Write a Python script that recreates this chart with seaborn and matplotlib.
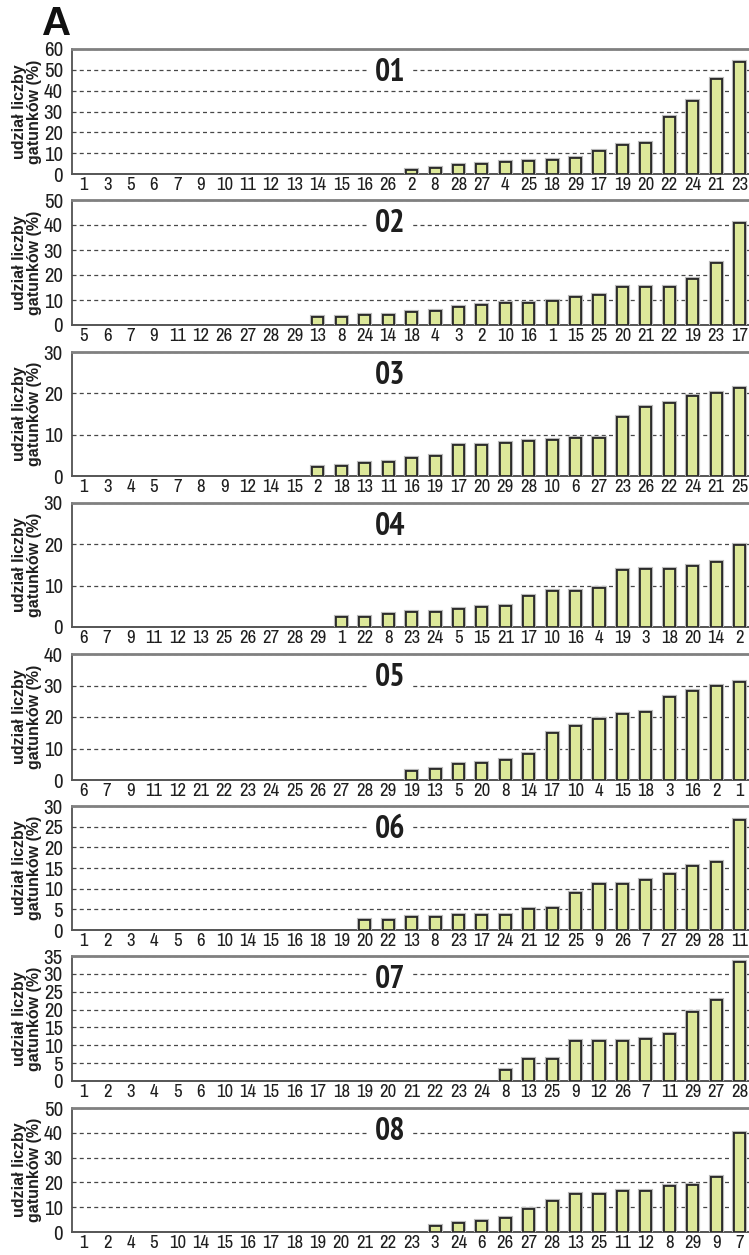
import os
import numpy as np
import pandas as pd
import matplotlib
matplotlib.use("Agg")
import matplotlib.pyplot as plt
import seaborn as sns
from matplotlib import font_manager, patheffects
from matplotlib.font_manager import FontProperties
from matplotlib.patches import Rectangle
from matplotlib.ticker import MultipleLocator, FixedLocator

# ---- data: site categories (x order) and share of species (%) per panel ----
panel_names = ["01", "02", "03", "04", "05", "06", "07", "08"]

cats_01 = [1, 3, 5, 6, 7, 9, 10, 11, 12, 13, 14, 15, 16, 26, 2, 8, 28, 27, 4, 25, 18, 29, 17, 19, 20, 22, 24, 21, 23]
vals_01 = [0, 0, 0, 0, 0, 0, 0, 0, 0, 0, 0, 0, 0, 0,
           1.8, 2.9, 4.2, 4.7, 5.8, 6.4, 6.9, 7.6, 10.9, 14.0, 14.9, 27.6, 35.0, 45.4, 53.9]

cats_02 = [5, 6, 7, 9, 11, 12, 26, 27, 28, 29, 13, 8, 24, 14, 18, 4, 3, 2, 10, 16, 1, 15, 25, 20, 21, 22, 19, 23, 17]
vals_02 = [0, 0, 0, 0, 0, 0, 0, 0, 0, 0,
           3.3, 3.3, 3.9, 3.9, 5.1, 5.6, 7.2, 8.2, 8.9, 8.9, 9.8, 11.4, 12.0, 15.2, 15.2, 15.2, 18.5, 25.0, 40.7]

cats_03 = [1, 3, 4, 5, 7, 8, 9, 12, 14, 15, 2, 18, 13, 11, 16, 19, 17, 20, 29, 28, 10, 6, 27, 23, 26, 22, 24, 21, 25]
vals_03 = [0, 0, 0, 0, 0, 0, 0, 0, 0, 0,
           2.1, 2.3, 3.1, 3.5, 4.4, 4.8, 7.5, 7.5, 7.9, 8.5, 8.8, 9.1, 9.1, 14.3, 16.6, 17.7, 19.4, 20.0, 21.4]

cats_04 = [6, 7, 9, 11, 12, 13, 25, 26, 27, 28, 29, 1, 22, 8, 23, 24, 5, 15, 21, 17, 10, 16, 4, 19, 3, 18, 20, 14, 2]
vals_04 = [0, 0, 0, 0, 0, 0, 0, 0, 0, 0, 0,
           2.3, 2.3, 3.1, 3.6, 3.6, 4.4, 4.8, 5.1, 7.4, 8.7, 8.7, 9.4, 13.8, 14.1, 14.1, 14.8, 15.8, 19.9]

cats_05 = [6, 7, 9, 11, 12, 21, 22, 23, 24, 25, 26, 27, 28, 29, 19, 13, 5, 20, 8, 14, 17, 10, 4, 15, 18, 3, 16, 2, 1]
vals_05 = [0, 0, 0, 0, 0, 0, 0, 0, 0, 0, 0, 0, 0, 0,
           2.7, 3.5, 5.0, 5.4, 6.4, 8.2, 15.0, 17.3, 19.3, 21.1, 21.5, 26.2, 28.4, 29.8, 31.1]

cats_06 = [1, 2, 3, 4, 5, 6, 10, 14, 15, 16, 18, 19, 20, 22, 13, 8, 23, 17, 24, 21, 12, 25, 9, 26, 7, 27, 29, 28, 11]
vals_06 = [0, 0, 0, 0, 0, 0, 0, 0, 0, 0, 0, 0,
           2.3, 2.3, 3.1, 3.1, 3.7, 3.7, 3.7, 5.1, 5.4, 9.0, 11.1, 11.1, 12.2, 13.5, 15.5, 16.5, 26.6]

cats_07 = [1, 2, 3, 4, 5, 6, 10, 14, 15, 16, 17, 18, 19, 20, 21, 22, 23, 24, 8, 13, 25, 9, 12, 26, 7, 11, 29, 27, 28]
vals_07 = [0, 0, 0, 0, 0, 0, 0, 0, 0, 0, 0, 0, 0, 0, 0, 0, 0, 0,
           3.0, 6.1, 6.1, 11.2, 11.2, 11.2, 11.9, 13.3, 19.3, 22.8, 33.2]

cats_08 = [1, 2, 4, 5, 10, 14, 15, 16, 17, 18, 19, 20, 21, 22, 23, 3, 24, 6, 26, 27, 28, 13, 25, 11, 12, 8, 29, 9, 7]
vals_08 = [0, 0, 0, 0, 0, 0, 0, 0, 0, 0, 0, 0, 0, 0, 0,
           2.4, 3.8, 4.3, 5.5, 9.3, 12.4, 15.5, 15.5, 16.7, 16.7, 18.5, 19.1, 22.3, 39.9]

y_max = [60, 50, 30, 30, 40, 30, 35, 50]
y_step = [10, 10, 10, 10, 10, 5, 5, 10]

all_cats = [cats_01, cats_02, cats_03, cats_04, cats_05, cats_06, cats_07, cats_08]
all_vals = [vals_01, vals_02, vals_03, vals_04, vals_05, vals_06, vals_07, vals_08]

# ---- fonts ----
sns.set_theme(style="white")
plt.rcParams["font.family"] = ["Liberation Sans", "DejaVu Sans"]


def narrow_font_file(bold):
    """Find an installed narrow / condensed sans face, best candidates first."""
    want = 700 if bold else 400
    best = None
    for e in font_manager.fontManager.ttflist:
        base = os.path.basename(e.fname).lower()
        if "italic" in base or "oblique" in base:
            continue
        try:
            w = int(e.weight)
        except (TypeError, ValueError):
            w = font_manager.weight_dict.get(e.weight, 400)
        if abs(w - want) > 100:
            continue
        if "narrow" in base:
            rank = 0
        elif "condensed" in base and "extra" not in base and "semi" not in base and "ultra" not in base:
            rank = 1
        elif "semicondensed" in base:
            rank = 2
        else:
            continue
        fam = e.name.lower()
        fam_rank = 0 if "liberation" in fam or "arial" in fam else (1 if "roboto" in fam else 2)
        key = (rank, fam_rank)
        if best is None or key < best[0]:
            best = (key, e.fname)
    return None if best is None else best[1]


reg_file = narrow_font_file(False)
bold_file = narrow_font_file(True)


def tick_fp(size):
    if reg_file:
        return FontProperties(fname=reg_file, size=size)
    return FontProperties(family="Liberation Sans", size=size)


def title_fp(size):
    if bold_file:
        return FontProperties(fname=bold_file, size=size)
    return FontProperties(family="Liberation Sans", weight="bold", size=size)


# ---- layout ----
W, H = 749, 1255
fig = plt.figure(figsize=(W / 100, H / 100), dpi=100)
fig.patch.set_facecolor("white")
rows = [(49, 174), (200, 325), (352, 476), (503, 627), (654, 780), (806, 930), (956, 1081), (1108, 1232)]
left_px = 72
title_base = 0.745   # baseline of the panel number, axes fraction

BAR = "#dde89a"
EDGE = "#2b2b2b"
TXT = "#1e1e1e"

axes, titles = [], []
for i in range(8):
    top, bot = rows[i]
    ax = fig.add_axes([left_px / W, 1 - bot / H, 1 - left_px / W + 0.003, (bot - top) / H])
    axes.append(ax)
    labels = [str(c) for c in all_cats[i]]
    df = pd.DataFrame({"stanowisko": labels, "udzial": all_vals[i]})
    sns.barplot(data=df, x="stanowisko", y="udzial", order=labels, color=BAR,
                saturation=1, edgecolor=EDGE, linewidth=1.3, width=0.47,
                ax=ax, zorder=3, errorbar=None)
    for p in ax.patches:
        if p.get_height() == 0:
            p.set_linewidth(0)
        else:
            p.set_path_effects([patheffects.withStroke(linewidth=3.0, foreground="#b9b9b9"),
                                patheffects.Normal()])

    ax.set_xlim(-0.5, len(labels) - 0.5)
    ax.set_ylim(0, y_max[i])
    ax.yaxis.set_major_locator(MultipleLocator(y_step[i]))
    ax.set_facecolor("white")
    ax.set_axisbelow(True)
    ax.yaxis.grid(True, linestyle=(0, (3.2, 2.6)), color="#474747", linewidth=0.9)
    ax.xaxis.grid(False)

    ax.spines["right"].set_visible(False)
    ax.spines["top"].set_color("#808080")
    ax.spines["top"].set_linewidth(2.0)
    ax.spines["left"].set_color("#333333")
    ax.spines["left"].set_linewidth(1.1)
    ax.spines["bottom"].set_color("#555555")
    ax.spines["bottom"].set_linewidth(1.4)

    ax.set_xlabel("")
    ax.set_ylabel("")
    ax.xaxis.set_minor_locator(FixedLocator(np.arange(-0.5, len(labels), 1.0)))
    ax.tick_params(axis="x", which="major", length=0, pad=2, colors=TXT)
    ax.tick_params(axis="x", which="minor", direction="out", length=5, width=1.0, color="#333333")
    ax.tick_params(axis="y", which="major", direction="out", length=5, width=1.0,
                   color="#333333", pad=1.5, labelcolor=TXT)

    t = ax.text(0.468, title_base, panel_names[i], transform=ax.transAxes,
                ha="center", va="baseline", fontproperties=title_fp(23),
                color=TXT, zorder=1.5)
    titles.append(t)

    ax.text(-0.066, 0.5, "udział liczby\ngatunków (%)", transform=ax.transAxes,
            rotation=90, ha="center", va="center", multialignment="center",
            fontsize=11.5, fontweight="bold", family="Liberation Sans", color=TXT,
            linespacing=1.05)

fig.text(42 / W, 1 - 35 / H, "A", ha="left", va="baseline", fontsize=29,
         fontweight="bold", family="Liberation Sans", color="#111111")

# apply the narrow face to tick labels once ticks exist, and cut the grid
# behind each panel number with a white patch fitted to the digits
fig.canvas.draw()
renderer = fig.canvas.get_renderer()
for ax, t in zip(axes, titles):
    for lbl in ax.get_xticklabels():
        lbl.set_fontproperties(tick_fp(13.5))
    for lbl in ax.get_yticklabels():
        lbl.set_fontproperties(tick_fp(15))
    bb = t.get_window_extent(renderer)
    base_y = ax.transAxes.transform((0, title_base))[1]
    inv = ax.transAxes.inverted()
    (x0, y0) = inv.transform((bb.x0 - 7, base_y - 3))
    (x1, y1) = inv.transform((bb.x1 + 7, base_y + 27))
    ax.add_patch(Rectangle((x0, y0), x1 - x0, y1 - y0, transform=ax.transAxes,
                           facecolor="white", edgecolor="none", zorder=1.4))

fig.savefig("out.png", dpi=100, facecolor="white")
